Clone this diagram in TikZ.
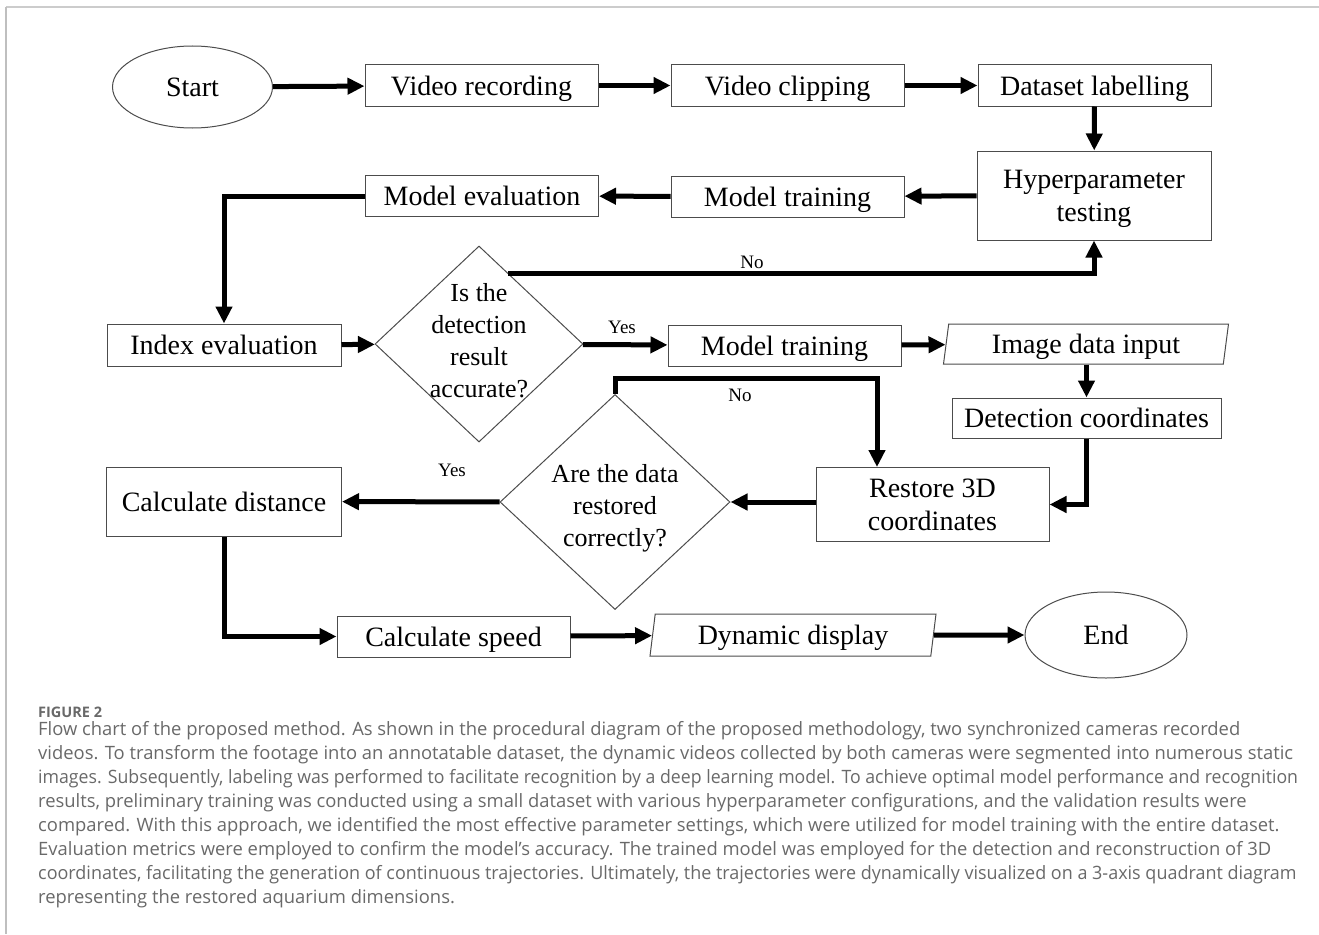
\documentclass[tikz,border=0pt]{standalone}
\usepackage{fontspec}
\setmainfont{Liberation Serif}
\newfontfamily\capfont{Open Sans}
\usetikzlibrary{shapes.geometric,arrows.meta,calc}
\definecolor{capgray}{RGB}{105,105,105}
\newcommand{\boxfont}{\fontsize{28}{33}\selectfont}
\newcommand{\askfont}{\fontsize{26}{32}\selectfont}
\newcommand{\tagfont}{\fontsize{19}{22}\selectfont}
\newcommand{\capsize}{\fontsize{18.4}{24}\selectfont}
\tikzset{
  stepbox/.style={draw=black!70, line width=1pt, minimum width=233pt, minimum height=41pt, inner sep=0pt, align=center, text depth=0pt, font=\boxfont},
  terminal/.style={ellipse, draw=black!70, line width=1pt, minimum width=160pt, minimum height=82pt, inner sep=0pt, font=\boxfont},
  ask/.style={diamond, draw=black!70, line width=1pt, inner sep=0pt},
  asktext/.style={inner sep=0pt, align=center, font=\askfont},
  inout/.style={trapezium, trapezium left angle=75, trapezium right angle=105, trapezium stretches body, draw=black!70, line width=1pt, minimum height=40pt, inner sep=0pt, text depth=0pt, font=\boxfont},
  flow/.style={line width=5pt, -{Triangle[length=17pt,width=16pt]}},
  tag/.style={inner sep=0pt, font=\tagfont},
  capline/.style={anchor=west, inner sep=0pt, text=capgray, font=\capfont\capsize}
}

\begin{document}
\begin{tikzpicture}[x=1pt, y=-1pt]
\useasboundingbox (0,0) rectangle (1319,934);
\draw[black!20, line width=2pt] (6,7) -- (1319,7);
\draw[black!25, line width=1.5pt] (6,7) -- (6,934);

\node[terminal] (start) at (192.5,87) {Start};
\node[stepbox] (record) at (481.5,85.5) {Video recording};
\node[stepbox] (clip) at (787.5,85.5) {Video clipping};
\node[stepbox] (label) at (1094.5,85.5) {Dataset labelling};
\node[stepbox, minimum width=234pt, minimum height=89pt] (hyper) at (1094,195.5) {Hyperparameter\\testing};
\node[stepbox] (train) at (787.5,196.5) {Model training};
\node[stepbox] (meval) at (482,196) {Model evaluation};
\node[stepbox, minimum width=234pt, minimum height=42pt] (index) at (224,345) {Index evaluation};
\node[ask, minimum width=208pt, minimum height=196pt] (accurate) at (479,344) {};
\node[asktext] (accuratetxt) at (479,340.5) {Is the\\detection\\result\\accurate?};
\node[stepbox] (retrain) at (784.5,345.5) {Model training};
\node[inout, minimum width=285pt] (input) at (1086,344) {Image data input};
\node[stepbox, minimum width=269pt, minimum height=40pt] (detect) at (1086.5,418) {Detection coordinates};
\node[stepbox, minimum height=74pt] (restore) at (932.5,504.5) {Restore 3D\\coordinates};
\node[ask, minimum width=230pt, minimum height=215pt] (correct) at (615,502) {};
\node[asktext] (correcttxt) at (615,508) {Are the data\\restored\\correctly?};
\node[stepbox, minimum width=235pt, minimum height=69pt] (dist) at (224,501.5) {Calculate distance};
\node[stepbox] (speed) at (453.5,636.5) {Calculate speed};
\node[inout, minimum width=286pt, minimum height=42pt] (show) at (793,635) {Dynamic display};
\node[terminal, minimum width=162pt, minimum height=86pt] (finish) at (1106,635) {End};

\node[tag] (yes1) at (622,327) {Yes};
\node[tag] (no1) at (752,262) {No};
\node[tag] (no2) at (740,395) {No};
\node[tag] (yes2) at (452,470) {Yes};
\coordinate (noturn) at (877,378);

\draw[flow] (start) -- (record);
\draw[flow] (record) -- (clip);
\draw[flow] (clip) -- (label);
\draw[flow] (label) -- (hyper);
\draw[flow] (hyper) -- (train);
\draw[flow] (train) -- (meval);
\draw[flow] (meval.west) -| (index.north);
\draw[flow] (index) -- (accurate);
\draw[flow] (accurate) -- (retrain);
\draw[flow] ($(accurate.north)!0.28!(accurate.east)$) -| (hyper.south);
\draw[flow] (retrain) -- (input);
\draw[flow] (detect.north |- input.south) -- (detect.north);
\draw[flow] (detect.south) |- (restore.east);
\draw[flow] (restore.west |- correct.east) -- (correct.east);
\draw[flow] (correct.north) |- (noturn) -- (noturn |- restore.north);
\draw[flow] (correct) -- (dist);
\draw[flow] (dist.south) |- (speed.west);
\draw[flow] (speed) -- (show);
\draw[flow] (show) -- (finish);

\node[capline, font=\capfont\bfseries\fontsize{14.5}{16}\selectfont] (fig) at (38,712) {FIGURE 2};
\node[capline] (cap1) at (38,731) {Flow chart of the proposed method. As shown in the procedural diagram of the proposed methodology, two synchronized cameras recorded};
\node[capline] (cap2) at (38,755) {videos. To transform the footage into an annotatable dataset, the dynamic videos collected by both cameras were segmented into numerous static};
\node[capline] (cap3) at (38,779) {\scalebox{0.962}[1]{images. Subsequently, labeling was performed to facilitate recognition by a deep learning model. To achieve optimal model performance and recognition}};
\node[capline] (cap4) at (38,803) {results, preliminary training was conducted using a small dataset with various hyperparameter configurations, and the validation results were};
\node[capline] (cap5) at (38,827) {compared. With this approach, we identified the most effective parameter settings, which were utilized for model training with the entire dataset.};
\node[capline] (cap6) at (38,851) {Evaluation metrics were employed to confirm the model’s accuracy. The trained model was employed for the detection and reconstruction of 3D};
\node[capline] (cap7) at (38,875) {\scalebox{0.977}[1]{coordinates, facilitating the generation of continuous trajectories. Ultimately, the trajectories were dynamically visualized on a 3-axis quadrant diagram}};
\node[capline] (cap8) at (38,899) {representing the restored aquarium dimensions.};
\end{tikzpicture}
\end{document}
